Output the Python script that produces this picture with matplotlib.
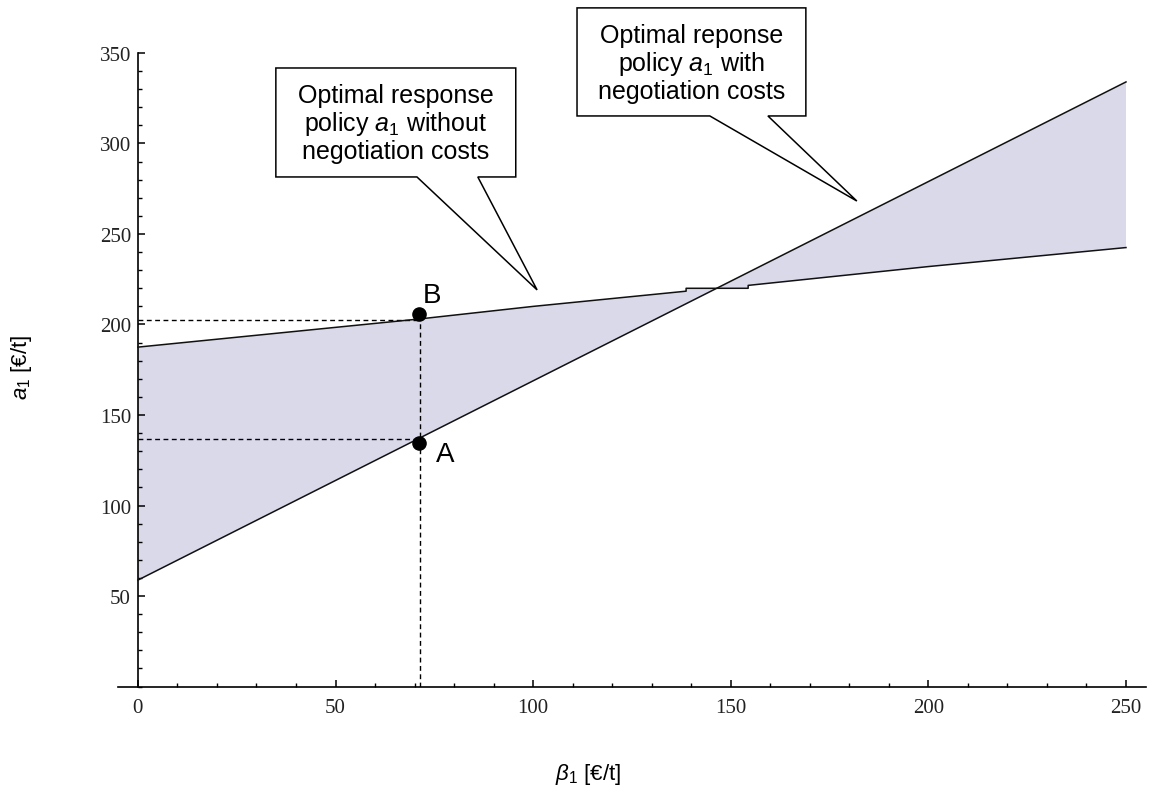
import matplotlib
matplotlib.use('Agg')
import matplotlib.pyplot as plt
import numpy as np
from matplotlib.patches import Polygon
from matplotlib.ticker import MultipleLocator

plt.rcParams['font.family'] = ['Liberation Sans', 'DejaVu Sans']
plt.rcParams['mathtext.fontset'] = 'custom'
plt.rcParams['mathtext.rm'] = 'Liberation Sans'
plt.rcParams['mathtext.it'] = 'Liberation Sans:italic'

# ---- data ----
beta_lower = [0, 250]
policy_with = [58.8, 334.0]
beta_upper = [0, 71, 100, 138.7, 138.7, 154.4, 154.4, 200, 250]
policy_without = [187.5, 203.0, 210.0, 218.4, 220.0, 220.0, 221.6, 232.0, 242.5]

beta_pt = 71
point_A = 134.5
point_B = 206.0
level_A = 136.7
level_B = 202.5

xticks = [0, 50, 100, 150, 200, 250]
yticks = [50, 100, 150, 200, 250, 300, 350]

fig = plt.figure(figsize=(11.55, 8.03), dpi=100)
ax = fig.add_axes([0.1023, 0.1438, 0.8897, 0.789])
ax.set_xlim(-5, 255)
ax.set_ylim(0, 350)

# shaded region
poly_x = np.concatenate([beta_upper, beta_lower[::-1]])
poly_y = np.concatenate([policy_without, policy_with[::-1]])
ax.fill(poly_x, poly_y, color='#d9d9ea', lw=0, zorder=1)
ax.plot(beta_upper, policy_without, color='#111111', lw=1.1, zorder=3)
ax.plot(beta_lower, policy_with, color='#111111', lw=1.1, zorder=3)

# dashed guides
ax.plot([0, beta_pt], [level_A, level_A], color='black', lw=1, ls=(0, (3.5, 2.5)), zorder=2)
ax.plot([0, beta_pt], [level_B, level_B], color='black', lw=1, ls=(0, (3.5, 2.5)), zorder=2)
ax.plot([beta_pt + 0.4, beta_pt + 0.4], [0, point_B], color='black', lw=1, ls=(0, (3.5, 2.5)), zorder=2)

ax.plot([beta_pt, beta_pt], [point_A, point_B], 'o', color='black', ms=9.5, zorder=4, ls='none')
ax.text(77.7, 128.5, 'A', fontsize=20, ha='center', va='center')
ax.text(74.4, 216.3, 'B', fontsize=20, ha='center', va='center')

# callout bubbles
def bubble(left, right, bottom, top, b1, b2, tip, text):
    pts = [(left, bottom), (b1, bottom), tip, (b2, bottom), (right, bottom),
           (right, top), (left, top)]
    p = Polygon(pts, closed=True, facecolor='white', edgecolor='black', lw=1.1,
                clip_on=False, zorder=6)
    ax.add_patch(p)
    ax.text((left + right) / 2, (bottom + top) / 2 - 0.5, text, ha='center', va='center',
            fontsize=18, multialignment='center', zorder=7, linespacing=1.1, clip_on=False)

bubble(34.9, 95.6, 281.5, 341.7, 70.6, 86.0, (101.0, 219.1),
       'Optimal response\npolicy $\\mathit{a}_{\\mathit{1}}$ without\nnegotiation costs')
bubble(111.1, 169.0, 315.2, 374.9, 144.7, 159.4, (181.9, 268.2),
       'Optimal reponse\npolicy $\\mathit{a}_{\\mathit{1}}$ with\nnegotiation costs')

# axes styling
for s in ['top', 'right']:
    ax.spines[s].set_visible(False)
ax.spines['left'].set_position(('data', 0))
ax.spines['left'].set_bounds(0, 350)
ax.spines['left'].set_linewidth(1.2)
ax.spines['bottom'].set_linewidth(1.2)
ax.set_xticks(xticks)
ax.set_yticks(yticks)
ax.xaxis.set_minor_locator(MultipleLocator(10))
ax.yaxis.set_minor_locator(MultipleLocator(10))
ax.tick_params(axis='both', which='major', direction='in', length=5, width=1.1,
               labelsize=15, labelcolor='#222222')
ax.tick_params(axis='both', which='minor', direction='in', length=3, width=1)
ax.tick_params(axis='x', which='major', pad=8)
ax.tick_params(axis='y', which='major', pad=5)
for lab in ax.get_xticklabels() + ax.get_yticklabels():
    lab.set_fontfamily('Liberation Serif')

fig.text(22 / 1155, 1 - 367 / 803, '$\\mathit{a}_{\\mathit{1}}$ [€/t]', rotation=90,
         ha='center', va='center', fontsize=16)
fig.text(588 / 1155, 1 - 775 / 803, '$\\mathit{\\beta}_{\\mathit{1}}$ [€/t]',
         ha='center', va='center', fontsize=16)

fig.savefig('out.png', dpi=100)
